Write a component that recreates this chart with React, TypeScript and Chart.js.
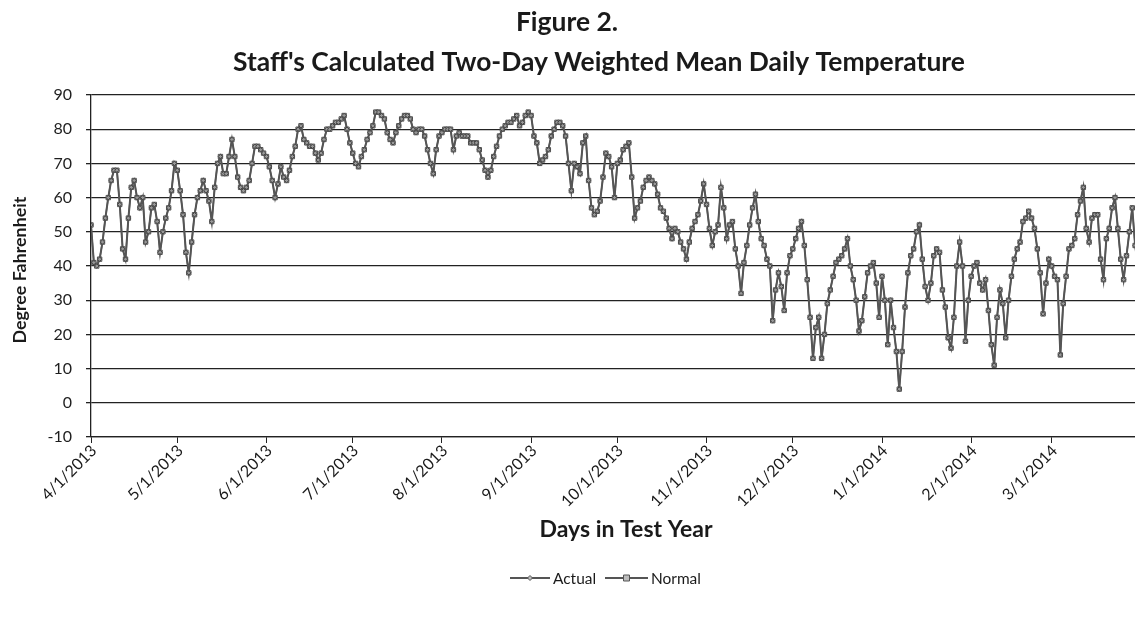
import React, { useEffect, useRef } from "react";
import { Chart, registerables } from "chart.js";

Chart.register(...registerables);

const FONT = "Lato, 'Open Sans', 'Liberation Sans', sans-serif";

const TITLE_LINE_1 = "Figure 2.";
const TITLE_LINE_2 = "Staff's Calculated Two-Day Weighted Mean Daily Temperature";
const Y_TITLE = "Degree Fahrenheit";
const X_TITLE = "Days in Test Year";
const SERIES_NAMES = ["Actual", "Normal"];

// x-axis ticks: day index (from 4/1/2013) of each month start, and its label
const monthTickDays = [0, 30, 61, 91, 122, 153, 183, 214, 244, 275, 306, 334];
const monthTickLabels = [
  "4/1/2013", "5/1/2013", "6/1/2013", "7/1/2013", "8/1/2013", "9/1/2013",
  "10/1/2013", "11/1/2013", "12/1/2013", "1/1/2014", "2/1/2014", "3/1/2014",
];
const yMin = -10;
const yMax = 90;
const yStep = 10;

// Daily two-day weighted mean temperature (deg F)
const apr2013 = [52, 41, 40, 42, 47, 54, 60, 65, 68, 68, 58, 45, 42, 54, 63, 65, 60, 57, 60, 47, 50, 57, 58, 53, 44, 50, 54, 57, 62, 70];
const may2013 = [68, 62, 55, 44, 38, 47, 55, 60, 62, 65, 62, 59, 53, 63, 70, 72, 67, 67, 72, 77, 72, 66, 63, 62, 63, 65, 70, 75, 75, 74, 73];
const jun2013 = [72, 69, 65, 60, 64, 69, 66, 65, 68, 72, 75, 80, 81, 77, 76, 75, 75, 73, 71, 73, 77, 80, 80, 81, 82, 82, 83, 84, 80, 76];
const jul2013 = [73, 70, 69, 72, 74, 77, 79, 81, 85, 85, 84, 83, 79, 77, 76, 79, 81, 83, 84, 84, 83, 80, 79, 80, 80, 78, 74, 70, 67, 74, 78];
const aug2013 = [79, 80, 80, 80, 74, 78, 79, 78, 78, 78, 76, 76, 76, 74, 71, 68, 66, 68, 72, 75, 78, 80, 81, 82, 82, 83, 84, 81, 82, 84, 85];
const sep2013 = [84, 78, 76, 70, 71, 72, 74, 78, 80, 82, 82, 81, 78, 70, 62, 70, 69, 67, 76, 78, 65, 57, 55, 56, 59, 66, 73, 72, 69, 60];
const oct2013 = [70, 71, 74, 75, 76, 66, 54, 57, 59, 63, 65, 66, 65, 64, 61, 57, 56, 54, 51, 48, 51, 50, 47, 45, 42, 47, 51, 53, 55, 59, 64];
const nov2013 = [58, 51, 46, 50, 52, 63, 57, 48, 52, 53, 45, 40, 32, 41, 46, 52, 57, 61, 53, 48, 46, 42, 40, 24, 33, 38, 34, 27, 38, 43];
const dec2013 = [45, 48, 51, 53, 46, 36, 25, 13, 22, 25, 13, 20, 29, 33, 37, 41, 42, 43, 45, 48, 40, 36, 30, 21, 24, 31, 38, 40, 41, 35, 25];
const jan2014 = [37, 30, 17, 30, 22, 15, 4, 15, 28, 38, 43, 45, 50, 52, 42, 34, 30, 35, 43, 45, 44, 33, 28, 19, 16, 25, 40, 47, 40, 18, 30];
const feb2014 = [37, 40, 41, 35, 33, 36, 27, 17, 11, 25, 33, 29, 19, 30, 37, 42, 45, 47, 53, 54, 56, 54, 51, 45, 38, 26, 35, 42];
const mar2014 = [40, 37, 36, 14, 29, 37, 45, 46, 48, 55, 59, 63, 51, 47, 54, 55, 55, 42, 36, 48, 51, 57, 60, 51, 42, 36, 43, 50, 57, 46, 40];

const actualTemps = [
  ...apr2013, ...may2013, ...jun2013, ...jul2013, ...aug2013, ...sep2013,
  ...oct2013, ...nov2013, ...dec2013, ...jan2014, ...feb2014, ...mar2014,
];
// The "Normal" series lies on top of the actual series in the figure
const normalTemps = actualTemps.slice();

const textPlugin = {
  id: "figureText",
  afterDraw(chart: any) {
    const ctx: CanvasRenderingContext2D = chart.ctx;
    const fit = (text: string, weight: string, target: number) => {
      ctx.font = `${weight} 100px ${FONT}`;
      return (100 * target) / ctx.measureText(text).width;
    };
    ctx.save();
    ctx.fillStyle = "#1a1a1a";
    ctx.textAlign = "center";
    ctx.textBaseline = "middle";

    const ts = fit(TITLE_LINE_2, "bold", 732);
    ctx.font = `bold ${ts}px ${FONT}`;
    ctx.fillText(TITLE_LINE_1, 567, 22);
    ctx.fillText(TITLE_LINE_2, 599, 62);

    const xs = fit(X_TITLE, "bold", 173);
    ctx.font = `bold ${xs}px ${FONT}`;
    ctx.fillText(X_TITLE, 626, 530);

    const ys = fit(Y_TITLE, "bold", 147);
    ctx.save();
    ctx.translate(20, 270);
    ctx.rotate(-Math.PI / 2);
    ctx.font = `bold ${ys}px ${FONT}`;
    ctx.fillText(Y_TITLE, 0, 0);
    ctx.restore();

    // x tick labels, rotated 45 degrees, ending at their tick
    const xScale = chart.scales.x;
    const axisY = chart.chartArea.bottom;
    ctx.font = `normal 16px ${FONT}`;
    ctx.textAlign = "right";
    ctx.textBaseline = "middle";
    monthTickDays.forEach((d, i) => {
      const px = xScale.getPixelForValue(d);
      ctx.save();
      ctx.translate(px + 3, axisY + 11);
      ctx.rotate(-Math.PI / 4);
      ctx.fillText(monthTickLabels[i], 0, 0);
      ctx.restore();
    });

    // legend
    const ls = fit(SERIES_NAMES[1], "normal", 50);
    ctx.font = `normal ${ls}px ${FONT}`;
    ctx.textAlign = "left";
    ctx.textBaseline = "middle";
    const ly = 578;
    const items = [
      { x0: 510, x1: 550, tx: 553, name: SERIES_NAMES[0], square: false },
      { x0: 605, x1: 648, tx: 651, name: SERIES_NAMES[1], square: true },
    ];
    for (const it of items) {
      ctx.strokeStyle = "#555";
      ctx.lineWidth = 2;
      ctx.beginPath();
      ctx.moveTo(it.x0, ly);
      ctx.lineTo(it.x1, ly);
      ctx.stroke();
      const cx = (it.x0 + it.x1) / 2;
      ctx.fillStyle = "#bdbdbd";
      ctx.strokeStyle = "#555";
      ctx.lineWidth = 1;
      ctx.beginPath();
      if (it.square) {
        ctx.rect(cx - 3, ly - 3, 6, 6);
      } else {
        ctx.moveTo(cx, ly - 2.5);
        ctx.lineTo(cx + 2.5, ly);
        ctx.lineTo(cx, ly + 2.5);
        ctx.lineTo(cx - 2.5, ly);
        ctx.closePath();
      }
      ctx.fill();
      ctx.stroke();
      ctx.fillStyle = "#1a1a1a";
      ctx.fillText(it.name, it.tx, ly + 1);
    }
    ctx.restore();
  },
};

export default function App() {
  const ref = useRef<HTMLCanvasElement>(null);

  useEffect(() => {
    const canvas = ref.current;
    if (!canvas) return;
    const toPoints = (arr: number[]) => arr.map((v, i) => ({ x: i, y: v }));
    const chart = new Chart(canvas, {
      type: "line",
      data: {
        datasets: [
          {
            label: SERIES_NAMES[0],
            data: toPoints(actualTemps),
            borderColor: "#555555",
            borderWidth: 2,
            pointStyle: "rectRot",
            pointRadius: 2.2,
            pointBackgroundColor: "#999999",
            pointBorderColor: "#444444",
            pointBorderWidth: 1,
            tension: 0,
          },
          {
            label: SERIES_NAMES[1],
            data: toPoints(normalTemps),
            borderColor: "#666666",
            borderWidth: 1.5,
            pointStyle: "rect",
            pointRadius: 3.1,
            pointBackgroundColor: "#bebebe",
            pointBorderColor: "#505050",
            pointBorderWidth: 1,
            tension: 0,
          },
        ],
      },
      options: {
        responsive: false,
        animation: false,
        layout: { padding: { top: 95, right: 7, bottom: 0, left: 0 } },
        plugins: {
          legend: { display: false },
          title: { display: false },
          tooltip: { enabled: false },
        },
        scales: {
          x: {
            type: "linear",
            min: 0,
            max: actualTemps.length - 1,
            afterFit: (scale: any) => {
              scale.height = 183;
            },
            afterBuildTicks: (scale: any) => {
              scale.ticks = monthTickDays.map((v) => ({ value: v }));
            },
            ticks: {
              display: false,
              autoSkip: false,
            },
            grid: {
              drawOnChartArea: false,
              drawTicks: true,
              tickLength: 6,
              color: "#222",
            },
            border: { color: "#222", width: 1.3 },
          },
          y: {
            min: yMin,
            max: yMax,
            afterFit: (scale: any) => {
              scale.width = 91;
            },
            ticks: {
              stepSize: yStep,
              padding: 14,
              color: "#1e1e1e",
              font: { family: FONT, size: 16 },
            },
            grid: {
              drawOnChartArea: true,
              drawTicks: true,
              tickLength: 5,
              color: "#222",
              lineWidth: 1.3,
            },
            border: { color: "#222", width: 1.3 },
          },
        },
      },
      plugins: [textPlugin],
    });
    return () => chart.destroy();
  }, []);

  return (
    <div
      style={{
        position: "fixed",
        left: 0,
        top: 0,
        width: 1135,
        height: 620,
        overflow: "hidden",
        background: "#fff",
      }}
    >
      <canvas
        ref={ref}
        width={1145}
        height={620}
        style={{ display: "block", width: 1145, height: 620 }}
      />
    </div>
  );
}
